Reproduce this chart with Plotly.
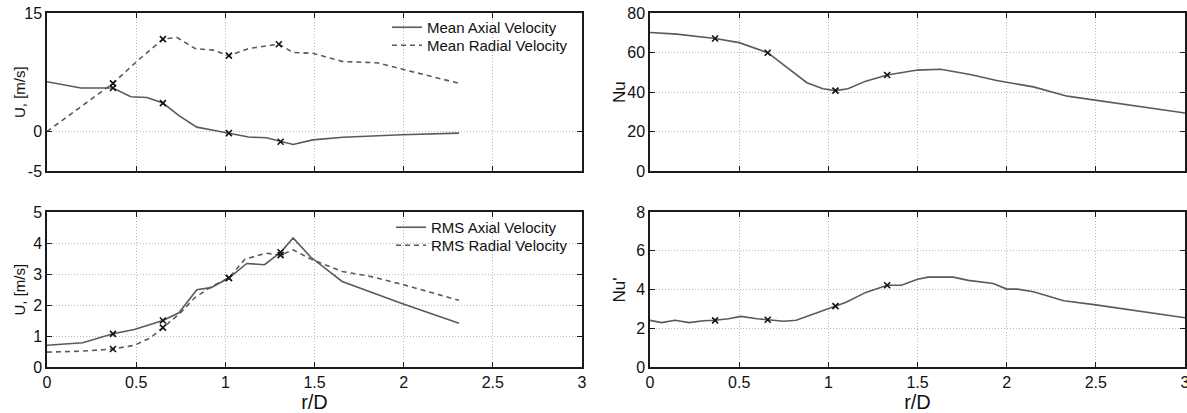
import plotly.graph_objects as go

# ---------------- data ----------------
# Top-left: mean velocities
mean_axial_x = [0.0, 0.19, 0.37, 0.47, 0.56, 0.65, 0.74, 0.84, 0.94, 1.02, 1.13, 1.23, 1.31, 1.38, 1.49, 1.66, 1.99, 2.31]
mean_axial_y = [6.3, 5.5, 5.5, 4.4, 4.3, 3.6, 2.0, 0.55, 0.13, -0.2, -0.7, -0.8, -1.3, -1.65, -1.06, -0.72, -0.42, -0.2]
mean_axial_mx = [0.37, 0.65, 1.02, 1.31]
mean_axial_my = [5.5, 3.6, -0.2, -1.3]

mean_radial_x = [0.0, 0.37, 0.5, 0.65, 0.73, 0.83, 0.93, 1.02, 1.13, 1.30, 1.38, 1.49, 1.66, 1.85, 1.99, 2.31]
mean_radial_y = [0.0, 6.1, 8.8, 11.7, 11.9, 10.5, 10.3, 9.6, 10.5, 11.05, 10.0, 9.9, 8.85, 8.7, 7.9, 6.1]
mean_radial_mx = [0.37, 0.65, 1.02, 1.30]
mean_radial_my = [6.1, 11.7, 9.6, 11.05]

# Bottom-left: RMS velocities
rms_axial_x = [0.0, 0.2, 0.37, 0.49, 0.65, 0.74, 0.84, 0.92, 1.02, 1.12, 1.22, 1.31, 1.38, 1.48, 1.655, 1.99, 2.31]
rms_axial_y = [0.70, 0.78, 1.07, 1.21, 1.50, 1.75, 2.49, 2.56, 2.87, 3.34, 3.30, 3.70, 4.16, 3.54, 2.76, 2.05, 1.41]
rms_axial_mx = [0.37, 0.65, 1.02, 1.31]
rms_axial_my = [1.07, 1.50, 2.87, 3.70]

rms_radial_x = [0.0, 0.19, 0.37, 0.49, 0.58, 0.65, 0.74, 0.83, 0.93, 1.02, 1.11, 1.23, 1.31, 1.38, 1.48, 1.655, 1.80, 1.99, 2.31]
rms_radial_y = [0.48, 0.51, 0.58, 0.70, 0.94, 1.27, 1.70, 2.24, 2.62, 2.87, 3.48, 3.67, 3.61, 3.78, 3.48, 3.08, 2.94, 2.67, 2.15]
rms_radial_mx = [0.37, 0.65, 1.02, 1.31]
rms_radial_my = [0.58, 1.27, 2.87, 3.61]

# Top-right: Nu
nu_x = [0.0, 0.15, 0.365, 0.50, 0.66, 0.77, 0.88, 0.97, 1.04, 1.11, 1.21, 1.33, 1.50, 1.63, 1.795, 1.944, 2.15, 2.34, 2.505, 2.69, 3.0]
nu_y = [70.1, 69.3, 67.1, 65.0, 59.9, 52.3, 44.7, 41.6, 40.7, 41.6, 45.5, 48.6, 51.1, 51.5, 48.9, 45.8, 42.6, 37.9, 35.8, 33.1, 29.4]
nu_mx = [0.365, 0.66, 1.04, 1.33]
nu_my = [67.1, 59.9, 40.7, 48.6]

# Bottom-right: Nu'
nup_x = [0.0, 0.065, 0.14, 0.22, 0.30, 0.365, 0.44, 0.51, 0.60, 0.66, 0.75, 0.82, 0.92, 1.04, 1.10, 1.21, 1.33, 1.41, 1.50, 1.56, 1.70, 1.785, 1.925, 2.0, 2.06, 2.15, 2.32, 2.49, 2.75, 3.0]
nup_y = [2.41, 2.29, 2.41, 2.29, 2.39, 2.41, 2.49, 2.61, 2.49, 2.44, 2.36, 2.41, 2.75, 3.14, 3.34, 3.85, 4.22, 4.22, 4.53, 4.64, 4.64, 4.47, 4.31, 4.02, 4.02, 3.88, 3.42, 3.22, 2.88, 2.54]
nup_mx = [0.365, 0.66, 1.04, 1.33]
nup_my = [2.41, 2.44, 3.14, 4.22]

x_ticks = [0, 0.5, 1, 1.5, 2, 2.5, 3]
x_tick_text = ["0", "0.5", "1", "1.5", "2", "2.5", "3"]

# ---------------- styling ----------------
W, H = 1187, 413
FONT = "Arial, Liberation Sans, Helvetica, sans-serif"
LINE_C = "#5a5a5a"
FRAME_C = "#1a1a1a"
GRID_C = "#b8b8b8"
TXT_C = "#111111"

def dom_x(a, b):
    return [a / W, b / W]

def dom_y(top, bottom):
    return [1 - bottom / H, 1 - top / H]

fig = go.Figure()

def line(x, y, xa, ya, name=None, dash="solid", legend=None):
    fig.add_trace(go.Scatter(
        x=x, y=y, xaxis=xa, yaxis=ya, mode="lines",
        line=dict(color=LINE_C, width=1.6, dash=dash),
        name=name, showlegend=name is not None,
        legend=legend if legend else "legend",
        hoverinfo="skip"))

def marks(x, y, xa, ya):
    fig.add_trace(go.Scatter(
        x=x, y=y, xaxis=xa, yaxis=ya, mode="markers",
        marker=dict(symbol="x-thin", size=6, line=dict(color="#111111", width=1.6)),
        showlegend=False, hoverinfo="skip"))

DASH = "5px,4px"

# top-left
line(mean_axial_x, mean_axial_y, "x", "y", "Mean Axial Velocity", "solid", "legend")
line(mean_radial_x, mean_radial_y, "x", "y", "Mean Radial Velocity", DASH, "legend2")
marks(mean_axial_mx, mean_axial_my, "x", "y")
marks(mean_radial_mx, mean_radial_my, "x", "y")

# bottom-left
line(rms_axial_x, rms_axial_y, "x2", "y2", "RMS Axial Velocity", "solid", "legend3")
line(rms_radial_x, rms_radial_y, "x2", "y2", "RMS Radial Velocity", DASH, "legend4")
marks(rms_axial_mx, rms_axial_my, "x2", "y2")
marks(rms_radial_mx, rms_radial_my, "x2", "y2")

# top-right
line(nu_x, nu_y, "x3", "y3")
marks(nu_mx, nu_my, "x3", "y3")

# bottom-right
line(nup_x, nup_y, "x4", "y4")
marks(nup_mx, nup_my, "x4", "y4")

common_axis = dict(
    showline=True, linecolor=FRAME_C, linewidth=1.5, mirror="ticks",
    ticks="inside", ticklen=5, tickcolor=FRAME_C, tickwidth=1.3,
    showgrid=True, gridcolor=GRID_C, griddash="1px,2px", gridwidth=1,
    zeroline=False, automargin=False, ticklabeloverflow="allow",
    tickfont=dict(family=FONT, size=16, color=TXT_C),
)

def xaxis(domain, anchor, labels, title=None):
    d = dict(common_axis)
    d.update(domain=domain, anchor=anchor, range=[0, 3],
             tickvals=x_ticks, ticktext=x_tick_text, showticklabels=labels)
    if title:
        d["title"] = dict(text=title, font=dict(family=FONT, size=20, color=TXT_C), standoff=10)
    return d

def yaxis(domain, anchor, rng, vals):
    d = dict(common_axis)
    d.update(domain=domain, anchor=anchor, range=rng, tickvals=vals,
             ticktext=[str(v) for v in vals], ticklabelstandoff=0)
    return d

L = dom_x(47, 582)
R = dom_x(650, 1185)
T = dom_y(13, 171)
B = dom_y(212, 367)

def leg(x_px, row_center_px):
    return dict(x=x_px / W, y=1 - (row_center_px - 12) / H, xanchor="left", yanchor="top",
                bgcolor="rgba(0,0,0,0)", borderwidth=0, tracegroupgap=0,
                font=dict(family=FONT, size=15, color=TXT_C), itemwidth=30)

def ytitle(text, x_px, dom, size):
    return dict(text=text, textangle=-90, x=x_px / W, y=(dom[0] + dom[1]) / 2,
                xref="paper", yref="paper", xanchor="center", yanchor="middle",
                showarrow=False, font=dict(family=FONT, size=size, color=TXT_C))

fig.update_layout(
    width=W, height=H,
    margin=dict(l=0, r=0, t=0, b=0),
    paper_bgcolor="white", plot_bgcolor="white",
    font=dict(family=FONT, color=TXT_C),
    xaxis=xaxis(L, "y", False),
    yaxis=yaxis(T, "x", [-5, 15], [-5, 0, 15]),
    xaxis2=xaxis(L, "y2", True, "r/D"),
    yaxis2=yaxis(B, "x2", [0, 5], [0, 1, 2, 3, 4, 5]),
    xaxis3=xaxis(R, "y3", False),
    yaxis3=yaxis(T, "x3", [0, 80], [0, 20, 40, 60, 80]),
    xaxis4=xaxis(R, "y4", True, "r/D"),
    yaxis4=yaxis(B, "x4", [0, 8], [0, 2, 4, 6, 8]),
    legend=leg(387, 23),
    legend2=leg(387, 41),
    legend3=leg(391, 223),
    legend4=leg(391, 241),
    annotations=[
        ytitle("U, [m/s]", 19, T, 15),
        ytitle("U, [m/s]", 19, B, 15),
        ytitle("Nu", 619, T, 17),
        ytitle("Nu'", 619, B, 17),
    ],
)

fig.write_html("out.html")
